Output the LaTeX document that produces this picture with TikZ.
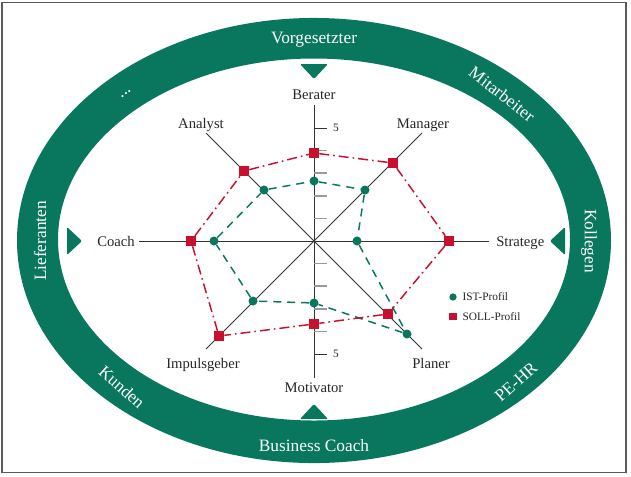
\documentclass[tikz,border=0pt]{standalone}
\usepackage{fontspec}
\setmainfont{Liberation Serif}
\usetikzlibrary{positioning}
\definecolor{ringgreen}{RGB}{8,119,94}
\definecolor{sollred}{RGB}{200,16,46}
\begin{document}
\begin{tikzpicture}[x=0.75pt, y=-0.75pt, node distance=4pt,
  axis/.style = {draw=black!80, line width=0.75pt},
  tick/.style = {draw=black!40, line width=1.1pt},
  lbl/.style = {font=\fontsize{11}{13}\selectfont, text=black!85, inner sep=0pt, anchor=base},
  small/.style = {font=\fontsize{8.5}{10}\selectfont, text=black!85, inner sep=0pt},
  ringlbl/.style = {font=\fontsize{13}{15}\selectfont, text=white, inner sep=0pt},
  ist/.style = {circle, fill=ringgreen, inner sep=0pt, minimum size=6.75pt},
  soll/.style = {rectangle, fill=sollred, inner sep=0pt, minimum size=7.5pt},
  istline/.style = {draw=ringgreen, line width=1.1pt, dash pattern=on 6pt off 4.5pt},
  sollline/.style = {draw=sollred, line width=1.1pt, dash pattern=on 7.5pt off 3pt on 1.2pt off 3pt},
  pointer/.style = {fill=ringgreen, rounded corners=1pt}]
\useasboundingbox (0,0) rectangle (631,476);
\draw[draw=black!65, line width=1.1pt] (2,2.5) rectangle (626,472.5);

% ring
\fill[ringgreen, even odd rule] (314,240.5) ellipse [x radius=222.75pt, y radius=166.9pt]
  (314,239.5) ellipse [x radius=192pt, y radius=135.75pt];
\node[ringlbl] (vorg) at (314,40) {Vorgesetzter};
\node[ringlbl, rotate=-38] (mitarb) at (502,94) {Mitarbeiter};
\node[ringlbl, rotate=-90] (koll) at (589,241) {Kollegen};
\node[ringlbl, rotate=42] (pehr) at (516,382) {PE-HR};
\node[ringlbl] (bcoach) at (314,446) {Business Coach};
\node[ringlbl, rotate=-42] (kunden) at (122,387) {Kunden};
\node[ringlbl, rotate=90] (liefer) at (40,241) {Lieferanten};
\node[ringlbl, rotate=38] (dots) at (126,94) {...};

% pointers
\fill[pointer] (300,64) -- (328,64) -- (314,79) -- cycle;
\fill[pointer] (300,419) -- (328,419) -- (314,404) -- cycle;
\fill[pointer] (67,227) -- (67,255) -- (82,241) -- cycle;
\fill[pointer] (565,227) -- (565,255) -- (550,241) -- cycle;

% axes
\coordinate (c) at (314,241);
\coordinate (eB) at (314,105);
\coordinate (eMa) at (422,133);
\coordinate (eS) at (489,241);
\coordinate (eP) at (422,349);
\coordinate (eMo) at (314,378);
\coordinate (eI) at (206,349);
\coordinate (eC) at (139,241);
\coordinate (eA) at (206,133);
\draw[axis] (c) -- (eB);
\draw[axis] (c) -- (eMa);
\draw[axis] (c) -- (eS);
\draw[axis] (c) -- (eP);
\draw[axis] (c) -- (eMo);
\draw[axis] (c) -- (eI);
\draw[axis] (c) -- (eC);
\draw[axis] (c) -- (eA);
\draw[tick] (314,218.4) -- (327,218.4) (314,195.8) -- (327,195.8)
  (314,173.2) -- (327,173.2) (314,150.6) -- (327,150.6)
  (314,263.6) -- (327,263.6) (314,286.2) -- (327,286.2)
  (314,308.8) -- (327,308.8) (314,331.4) -- (327,331.4);
\draw[axis] (314,128) -- (327,128) (314,354) -- (327,354);
\node[small] (five1) at (336,127.5) {5};
\node[small] (five2) at (336,354) {5};

\node[lbl] (berater) at (314,99) {Berater};
\node[lbl] (manager) at (423,128) {Manager};
\node[lbl, anchor=base west] (stratege) at (496,246) {Stratege};
\node[lbl] (planer) at (431,368) {Planer};
\node[lbl] (motivator) at (314,392) {Motivator};
\node[lbl] (impuls) at (203,368) {Impulsgeber};
\node[lbl, anchor=base east] (coach) at (135,246) {Coach};
\node[lbl] (analyst) at (201,128) {Analyst};

% IST-Profil
\node[ist] (i1) at (314,181) {};
\node[ist] (i2) at (365,190) {};
\node[ist] (i3) at (357,241) {};
\node[ist] (i4) at (407,334) {};
\node[ist] (i5) at (314,303) {};
\node[ist] (i6) at (253,301) {};
\node[ist] (i7) at (214,241) {};
\node[ist] (i8) at (264,190) {};
\draw[istline] (i1) -- (i2) -- (i3) -- (i4) -- (i5) -- (i6) -- (i7) -- (i8) -- (i1);

% SOLL-Profil
\node[soll] (s1) at (314,153) {};
\node[soll] (s2) at (393,163) {};
\node[soll] (s3) at (449,241) {};
\node[soll] (s4) at (388,314) {};
\node[soll] (s5) at (314,324) {};
\node[soll] (s6) at (219,336) {};
\node[soll] (s7) at (191,241) {};
\node[soll] (s8) at (244,171) {};
\draw[sollline] (s1) -- (s2) -- (s3) -- (s4) -- (s5) -- (s6) -- (s7) -- (s8) -- (s1);

% legend
\node[ist, minimum size=5.5pt] (istkey) at (453,297) {};
\node[small, right=of istkey] (istlbl) {IST-Profil};
\node[soll, minimum size=5.5pt] (sollkey) at (453,316.5) {};
\node[small, right=of sollkey] (solllbl) {SOLL-Profil};
\end{tikzpicture}
\end{document}
